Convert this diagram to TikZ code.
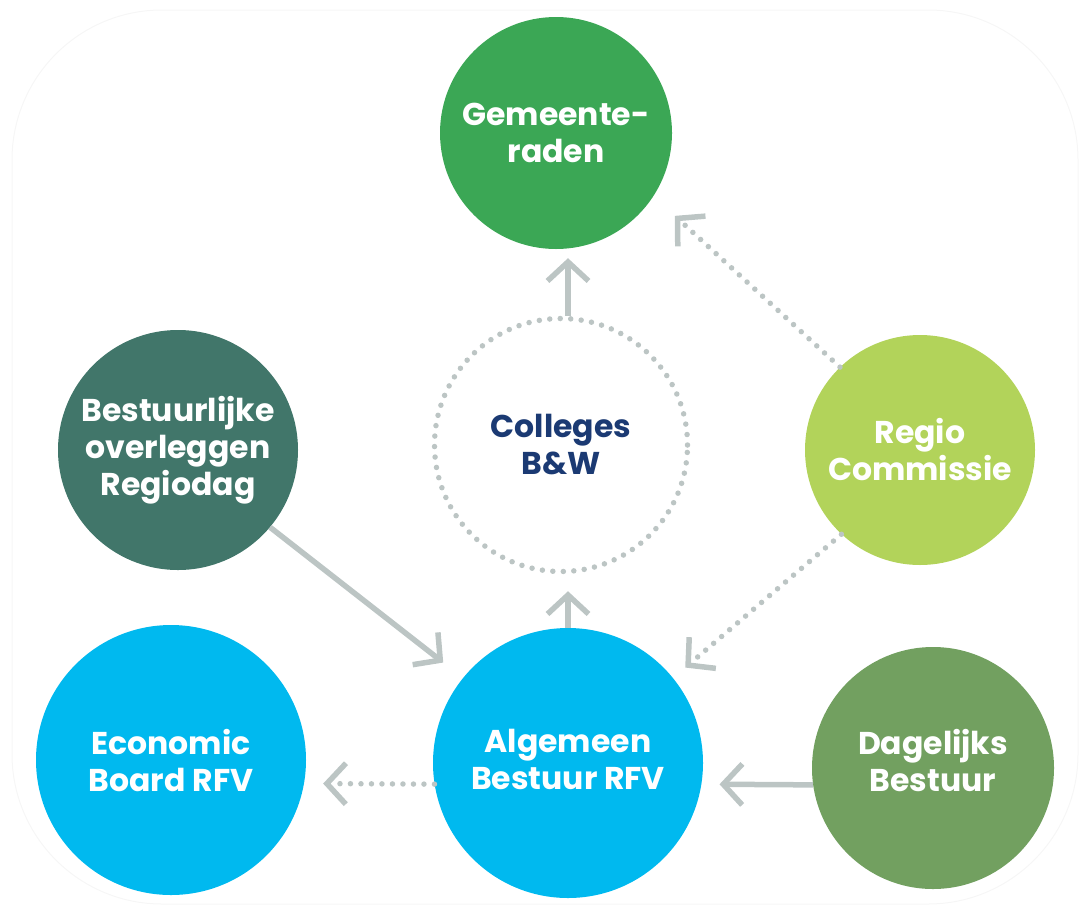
\documentclass[tikz,border=0pt]{standalone}
\usepackage{fontspec}
\setmainfont{Poppins}
\usetikzlibrary{arrows.meta}
\definecolor{gemgreen}{HTML}{3BA755}
\definecolor{bodark}{HTML}{41766A}
\definecolor{regio}{HTML}{B2D35A}
\definecolor{cyanrfv}{HTML}{00B9EF}
\definecolor{dagg}{HTML}{72A060}
\definecolor{arrowgray}{HTML}{BCC5C4}
\definecolor{navy}{HTML}{1B3A73}
\definecolor{framegray}{HTML}{F6F6F6}
\tikzset{
  blobfont/.style={font=\fontsize{31.5}{37}\selectfont\bfseries},
  blob/.style={circle, inner sep=0pt, align=center, text=white, blobfont},
  conn/.style={draw=arrowgray, line width=5.5pt,
    -{Straight Barb[length=19pt,width=41pt]}},
  dotconn/.style={conn, line cap=round, dash pattern=on 0pt off 10.5pt},
}
\begin{document}
\begin{tikzpicture}[x=1pt,y=-1pt]
\useasboundingbox (0,0) rectangle (1086,913);
\draw[framegray, line width=1pt, rounded corners=150pt] (12,10) rectangle (1078,904);

\node[blob, fill=gemgreen, minimum size=232pt] (gem) at (556,133) {Gemeente-\\raden};
\node[circle, draw=arrowgray, line width=5.5pt, line cap=round, dash pattern=on 0pt off 10.5pt,
  minimum size=253pt, inner sep=0pt, align=center, text=navy, blobfont] (coll) at (561,445) {Colleges\\B\&W};
\node[blob, fill=bodark, minimum size=240pt] (bo) at (178,450) {Bestuurlijke\\overleggen\\Regiodag};
\node[blob, fill=regio, minimum size=230pt] (rc) at (920,450) {Regio\\Commissie};
\node[blob, fill=cyanrfv, minimum size=270pt] (eb) at (171,760) {Economic\\Board RFV};
\node[blob, fill=cyanrfv, minimum size=270pt,
  label={[text=white, align=center, blobfont, yshift=4pt]center:{Algemeen\\Bestuur RFV}}] (ab) at (568,763) {};
\node[blob, fill=dagg, minimum size=242pt,
  label={[text=white, align=center, blobfont, yshift=8pt]center:{Dagelijks\\Bestuur}}] (db) at (933,768) {};

\draw[conn, shorten >=17pt] (ab.north) -- (ab.north |- coll.south);
\draw[conn, shorten >=9pt] (ab.north |- coll.north) -- (ab.north |- gem.south);
\draw[dotconn, shorten >=29pt] (rc.134) -- (gem.-33.5);
\draw[dotconn, shorten >=16pt] (rc.-133) -- (ab.39.4);
\draw[conn, shorten >=25pt] (bo.-40) -- (ab.141);
\draw[dotconn, shorten >=19pt] (ab.189.4) -- (eb.-10.7);
\draw[conn, shorten >=18pt] (db.188) -- (ab.-9.4);
\end{tikzpicture}
\end{document}
